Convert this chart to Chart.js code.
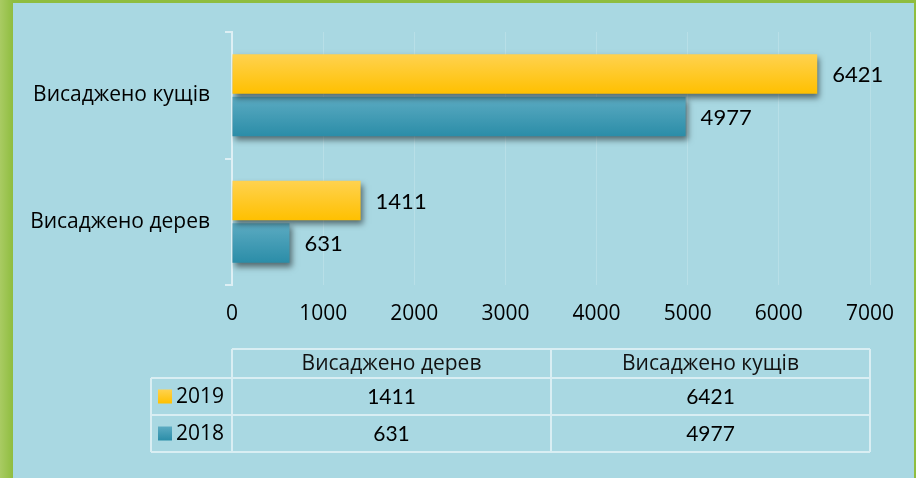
<!DOCTYPE html>
<html>
<head>
<meta charset="utf-8">
<script src="https://cdn.jsdelivr.net/npm/chart.js@4.4.1/dist/chart.umd.min.js"></script>
<style>
  html, body { margin: 0; padding: 0; }
  body {
    width: 916px; height: 478px; overflow: hidden; position: relative;
    background: linear-gradient(to right, #a9cb63 0px, #8fbd3f 13px, #8fbd3f 100%);
  }
  #wrap { position: absolute; left: 13px; top: 3px; width: 901px; height: 475px; background: #a9d8e2; }
</style>
</head>
<body>
<div id="wrap"><canvas id="plantChart"></canvas></div>
<script>
// data
const categories = ['Висаджено дерев', 'Висаджено кущів'];
const seriesNames = ['2019', '2018'];
const values2019 = [1411, 6421];
const values2018 = [631, 4977];
const xTicks = [0, 1000, 2000, 3000, 4000, 5000, 6000, 7000];

const textFont = '"Open Sans", sans-serif';
const numFont = 'Lato, sans-serif';
const colors = {
  '2019': ['#ffd24f', '#ffc000'],
  '2018': ['#5cabc2', '#2b8da8']
};
const seriesValues = [values2019, values2018];

// gradient + shadow on bars, value labels after
const barLook = {
  id: 'barLook',
  beforeDatasetsDraw(chart) {
    const ctx = chart.ctx;
    chart.data.datasets.forEach((ds, i) => {
      const c = colors[ds.label];
      chart.getDatasetMeta(i).data.forEach(bar => {
        const h = bar.height;
        const g = ctx.createLinearGradient(0, bar.y - h / 2, 0, bar.y + h / 2);
        g.addColorStop(0, c[0]);
        g.addColorStop(1, c[1]);
        bar.options.backgroundColor = g;
      });
    });
    ctx.save();
    ctx.shadowColor = 'rgba(0,0,0,0.5)';
    ctx.shadowBlur = 6;
    ctx.shadowOffsetX = 2;
    ctx.shadowOffsetY = 4;
  },
  afterDatasetsDraw(chart) {
    const ctx = chart.ctx;
    ctx.restore();
    ctx.save();
    ctx.font = '22px ' + numFont;
    ctx.fillStyle = '#000';
    ctx.textBaseline = 'middle';
    ctx.textAlign = 'left';
    chart.data.datasets.forEach((ds, i) => {
      chart.getDatasetMeta(i).data.forEach((bar, j) => {
        ctx.fillText(String(ds.data[j]), bar.x + 15, bar.y + 1);
      });
    });
    ctx.restore();
  }
};

// data table under the chart
const dataTable = {
  id: 'dataTable',
  afterDraw(chart) {
    const ctx = chart.ctx;
    const ca = chart.chartArea;
    const b = ca.bottom;
    const rows = [b + 64, b + 93, b + 130, b + 167];
    const xL = ca.left - 81;
    const colW = (ca.right - ca.left) / categories.length;
    ctx.save();
    ctx.strokeStyle = 'rgba(226,242,246,0.85)';
    ctx.lineWidth = 2;
    ctx.beginPath();
    ctx.moveTo(ca.left, rows[0]); ctx.lineTo(ca.right, rows[0]);
    for (let r = 1; r < rows.length; r++) {
      ctx.moveTo(xL, rows[r]); ctx.lineTo(ca.right, rows[r]);
    }
    ctx.moveTo(xL, rows[1]); ctx.lineTo(xL, rows[3]);
    for (let c = 0; c <= categories.length; c++) {
      const x = ca.left + c * colW;
      ctx.moveTo(x, rows[0]); ctx.lineTo(x, rows[3]);
    }
    ctx.stroke();

    ctx.fillStyle = '#111';
    ctx.textBaseline = 'middle';
    ctx.textAlign = 'center';
    ctx.font = '21px ' + textFont;
    categories.forEach((cat, c) => {
      ctx.fillText(cat, ca.left + c * colW + colW / 2, (rows[0] + rows[1]) / 2 + 1);
    });
    seriesNames.forEach((name, r) => {
      const yc = (rows[r + 1] + rows[r + 2]) / 2;
      ctx.font = '21px ' + numFont;
      ctx.textAlign = 'center';
      ctx.fillStyle = '#000';
      seriesValues[r].forEach((v, c) => {
        ctx.fillText(String(v), ca.left + c * colW + colW / 2, yc + 1);
      });
      const g = ctx.createLinearGradient(0, yc - 7, 0, yc + 7);
      g.addColorStop(0, colors[name][0]);
      g.addColorStop(1, colors[name][1]);
      ctx.fillStyle = g;
      ctx.fillRect(xL + 7, yc - 7, 14, 14);
      ctx.fillStyle = '#000';
      ctx.textAlign = 'left';
      ctx.font = '21px ' + textFont;
      ctx.fillText(name, xL + 25, yc + 1);
    });
    ctx.restore();
  }
};

const ctx = document.getElementById('plantChart');
new Chart(ctx, {
  type: 'bar',
  data: {
    labels: categories,
    datasets: [
      { label: seriesNames[0], data: values2019, backgroundColor: () => colors['2019'][1] },
      { label: seriesNames[1], data: values2018, backgroundColor: () => colors['2018'][1] }
    ]
  },
  options: {
    indexAxis: 'y',
    responsive: true,
    maintainAspectRatio: false,
    animation: false,
    events: [],
    categoryPercentage: 0.67,
    barPercentage: 0.93,
    layout: { padding: { top: 29, right: 44, left: 0, bottom: 153 } },
    plugins: {
      legend: { display: false },
      tooltip: { enabled: false }
    },
    scales: {
      x: {
        min: 0, max: 7000,
        afterBuildTicks: s => { s.ticks = xTicks.map(v => ({ value: v })); },
        afterFit: s => { s.height = 40; },
        grid: { color: 'rgba(255,255,255,0.18)', lineWidth: 1, drawTicks: false },
        border: { display: false },
        ticks: {
          color: '#000', padding: 16,
          font: { family: textFont, size: 21 },
          callback: v => String(v)
        }
      },
      y: {
        reverse: true,
        afterFit: s => { s.width = 219; },
        grid: { drawOnChartArea: false, drawTicks: true, tickLength: 7, color: 'rgba(226,242,246,0.9)', lineWidth: 2, offset: true },
        border: { color: 'rgba(226,242,246,0.9)', width: 2 },
        ticks: { color: '#000', padding: 15, font: { family: textFont, size: 21 } }
      }
    }
  },
  plugins: [barLook, dataTable]
});
</script>
</body>
</html>
